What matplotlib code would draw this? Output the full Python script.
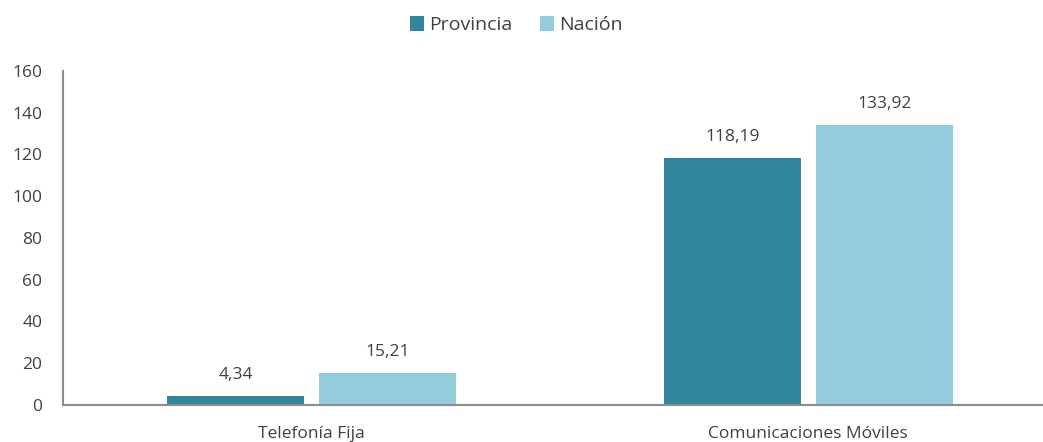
import numpy as np
import matplotlib.pyplot as plt

plt.rcParams['font.family'] = ['Open Sans', 'DejaVu Sans']

categorias = ["Telefonía Fija", "Comunicaciones Móviles"]
provincia = [4.34, 118.19]
nacion = [15.21, 133.92]
series = ["Provincia", "Nación"]
colores = ["#31859C", "#93CDDD"]
texto = "#404040"

fig = plt.figure(figsize=(10.43, 4.42), dpi=100)
ax = fig.add_axes([0.0604, 0.0837, 0.9396, 0.7557])

x = np.arange(len(categorias))
ancho = 0.276
offs = [-0.152, 0.154]

for vals, nombre, col, off in zip([provincia, nacion], series, colores, offs):
    barras = ax.bar(x + off, vals, ancho, color=col, label=nombre)
    for b, v in zip(barras, vals):
        ax.annotate(f"{v:.2f}".replace(".", ","), (b.get_x() + b.get_width() / 2, v),
                    xytext=(0, 17), textcoords="offset pixels",
                    ha="center", va="baseline", fontsize=12.5, color=texto)

ax.set_xlim(-0.5, 1.473)
ax.set_ylim(0, 160)
ax.set_yticks(range(0, 161, 20))
ax.set_xticks(x)
ax.set_xticklabels(categorias)
ax.tick_params(axis="both", length=0, labelsize=12.5, labelcolor=texto)
ax.tick_params(axis="x", pad=15)
ax.tick_params(axis="y", pad=15)
for lado in ["top", "right"]:
    ax.spines[lado].set_visible(False)
for lado in ["left", "bottom"]:
    ax.spines[lado].set_color("#8C8C8C")
    ax.spines[lado].set_linewidth(1.5)

fig.legend(loc="center", bbox_to_anchor=(0.495, 0.943), ncol=2, frameon=False,
           fontsize=14, handlelength=0.75, handleheight=0.75, handletextpad=0.25,
           columnspacing=1.4, labelcolor=texto)

fig.savefig("out.png", dpi=100)
